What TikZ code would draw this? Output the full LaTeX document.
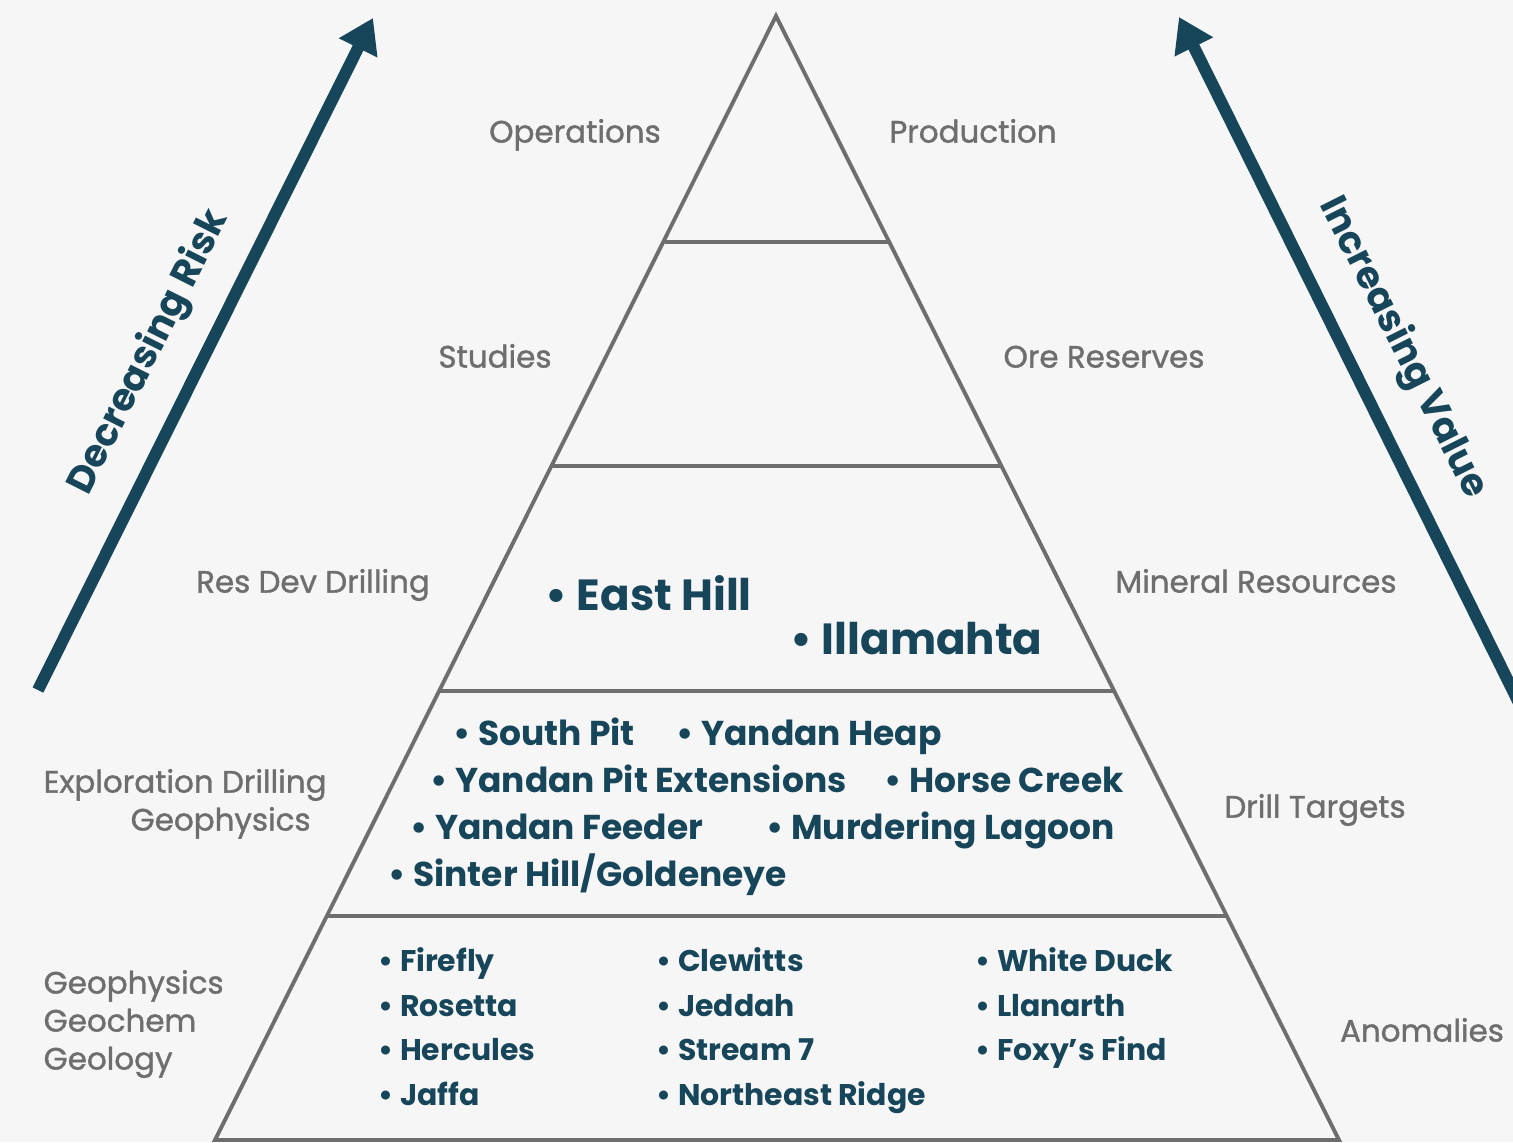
\documentclass[tikz,border=0pt]{standalone}
\usepackage{fontspec}
\setmainfont{Poppins}
\newfontfamily\stagefont{Poppins}[FakeBold=1.2]
\usepackage{tikz}
\usetikzlibrary{arrows.meta}
\usetikzlibrary{positioning}
\definecolor{background}{HTML}{F6F6F6}
\definecolor{penColor}{HTML}{6E6E6E}
\definecolor{penColor2}{HTML}{17465A}
\colorlet{labelColor}{penColor}
\tikzset{
  level/.style={text=labelColor,font=\stagefont\fontsize{8.8}{10}\selectfont,inner sep=0pt,
    text height=1.6ex,text depth=.4ex},
  item/.style={text=penColor2,font=\bfseries\fontsize{8.5}{10}\selectfont,anchor=west,inner sep=0pt,
    text height=1.6ex,text depth=.4ex},
  bigitem/.style={item,font=\bfseries\fontsize{9.8}{12}\selectfont},
  hugeitem/.style={item,font=\bfseries\fontsize{12.4}{15}\selectfont},
  trend/.style={penColor2,line width=3.4pt,-{Triangle[length=9.5pt,width=11.6pt]}},
  trendlabel/.style={text=penColor2,font=\bfseries\fontsize{10.8}{12}\selectfont,inner sep=0pt,
    text height=1.6ex,text depth=.4ex}
}

\begin{document}
\begin{tikzpicture}[x=0.01cm,y=-0.01cm]
    \fill[background] (0,0) rectangle (1513,1142);
    \useasboundingbox (0,0) rectangle (1513,1142);

    % pyramid outline and levels
    \coordinate (T) at (776,16);
    \coordinate (A1) at (665,242);  \coordinate (A2) at (888,242);
    \coordinate (B1) at (553,466);  \coordinate (B2) at (1000,466);
    \coordinate (C1) at (440,691);  \coordinate (C2) at (1113,691);
    \coordinate (D1) at (328,916);  \coordinate (D2) at (1226,916);
    \coordinate (E1) at (215,1140); \coordinate (E2) at (1339,1140);
    \draw[penColor,line width=1.1pt,line join=miter] (T)--(E1)--(E2)--cycle;
    \foreach \l/\r in {A1/A2,B1/B2,C1/C2,D1/D2}
      \draw[penColor,line width=1.1pt] (\l)--(\r);

    % trend arrows
    \coordinate (riskStart) at (38,690);
    \coordinate (riskEnd) at (373,18);
    \coordinate (valueStart) at (1520,705);
    \coordinate (valueEnd) at (1179,17);
    \draw[trend] (riskStart)--(riskEnd);
    \draw[trend] (valueStart)--(valueEnd);
    \node[trendlabel,rotate=63.3] (risk) at (148,352) {Decreasing Risk};
    \node[trendlabel,rotate=-63.3] (value) at (1404,347) {Increasing Value};

    % stage labels
    \node[level] (ops) at (575,131) {Operations};
    \node[level] (prod) at (973,131) {Production};
    \node[level] (studies) at (495,356) {Studies};
    \node[level] (ore) at (1104,356) {Ore Reserves};
    \node[level] (resdev) at (313,581) {Res Dev Drilling};
    \node[level] (mineral) at (1256,581) {Mineral Resources};
    \node[level,anchor=west] (expl) at (43,781) {Exploration Drilling};
    \node[level,anchor=west] (explgeo) at (130,819) {Geophysics};
    \node[level] (drill) at (1315,806) {Drill Targets};
    \node[level,anchor=west] (geophys) at (43,982) {Geophysics};
    \node[level,anchor=west] (geochem) at (43,1020) {Geochem};
    \node[level,anchor=west] (geology) at (43,1058) {Geology};
    \node[level] (anom) at (1422,1030) {Anomalies};

    % resources
    \node[hugeitem] (easthill) at (545,599) {\textbullet\ East Hill};
    \node[hugeitem] (illamahta) at (790,643) {\textbullet\ Illamahta};

    % drill targets
    \node[bigitem] (southpit) at (453,734) {\textbullet\ South Pit};
    \node[bigitem] (heap) at (676,734) {\textbullet\ Yandan Heap};
    \node[bigitem] (pitext) at (430,781) {\textbullet\ Yandan Pit Extensions};
    \node[bigitem] (horse) at (884,781) {\textbullet\ Horse Creek};
    \node[bigitem] (feeder) at (410,828) {\textbullet\ Yandan Feeder};
    \node[bigitem] (lagoon) at (766,828) {\textbullet\ Murdering Lagoon};
    \node[bigitem] (sinter) at (388,875) {\textbullet\ Sinter Hill/Goldeneye};

    % anomalies
    \node[item] (firefly) at (378,960) {\textbullet\ Firefly};
    \node[item] (rosetta) at (378,1005) {\textbullet\ Rosetta};
    \node[item] (hercules) at (378,1049) {\textbullet\ Hercules};
    \node[item] (jaffa) at (378,1094) {\textbullet\ Jaffa};
    \node[item] (clewitts) at (656,960) {\textbullet\ Clewitts};
    \node[item] (jeddah) at (656,1005) {\textbullet\ Jeddah};
    \node[item] (stream) at (656,1049) {\textbullet\ Stream 7};
    \node[item] (northeast) at (656,1094) {\textbullet\ Northeast Ridge};
    \node[item] (duck) at (975,960) {\textbullet\ White Duck};
    \node[item] (llanarth) at (975,1005) {\textbullet\ Llanarth};
    \node[item] (foxy) at (975,1049) {\textbullet\ Foxy’s Find};
\end{tikzpicture}
\end{document}
